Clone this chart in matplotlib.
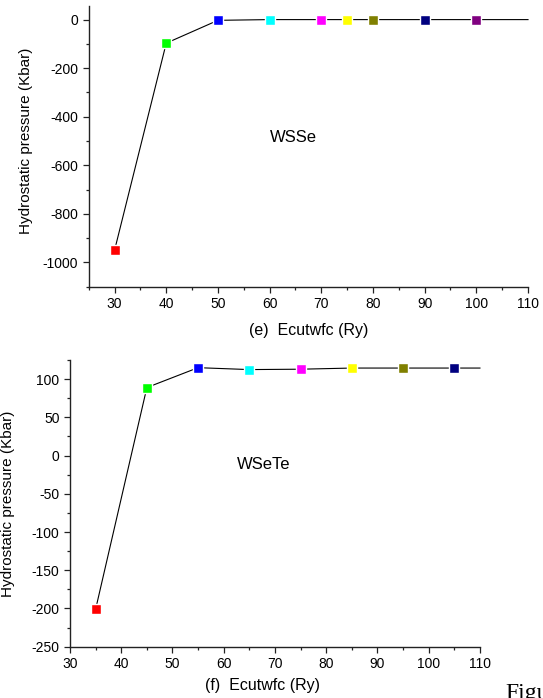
import numpy as np
import matplotlib
matplotlib.use('Agg')
import matplotlib.pyplot as plt
from matplotlib.ticker import MultipleLocator

plt.rcParams['font.family'] = ['Liberation Sans', 'DejaVu Sans']
plt.rcParams['axes.unicode_minus'] = False

# (e) WSSe
ecut_e = [30, 40, 50, 60, 70, 75, 80, 90, 100]
press_e = [-950, -97, -3, 0, 0, 0, 0, 0, 0]
colors_e = ['#ff0000', '#00ff00', '#0000ff', '#00ffff', '#ff00ff',
            '#ffff00', '#808000', '#000080', '#800080']
end_e = (110, 0)

# (f) WSeTe
ecut_f = [35, 45, 55, 65, 75, 85, 95, 105]
press_f = [-201, 89, 115, 112.5, 113, 114.5, 114.5, 114.5]
colors_f = ['#ff0000', '#00ff00', '#0000ff', '#00ffff', '#ff00ff',
            '#ffff00', '#808000', '#000080']
end_f = (110, 114.5)

fig = plt.figure(figsize=(5.43, 6.98), dpi=100)

def panel(ax, x, y, cols, end, xlim, ylim, ymaj, ymin, name, namepos, xlab):
    ax.plot(list(x) + [end[0]], list(y) + [end[1]], color='black', lw=0.8, zorder=1, clip_on=False)
    ax.scatter(x, y, c=cols, marker='s', s=52, edgecolors='white', linewidths=1.0, zorder=3, clip_on=False)
    ax.set_xlim(*xlim)
    ax.set_ylim(*ylim)
    ax.xaxis.set_major_locator(MultipleLocator(10))
    ax.xaxis.set_minor_locator(MultipleLocator(5))
    ax.yaxis.set_major_locator(MultipleLocator(ymaj))
    ax.yaxis.set_minor_locator(MultipleLocator(ymin))
    for s in ['top', 'right']:
        ax.spines[s].set_visible(False)
    for s in ['left', 'bottom']:
        ax.spines[s].set_linewidth(1.0)
        ax.spines[s].set_color('#222222')
    ax.tick_params(which='major', direction='out', length=4.5, width=0.9, labelsize=10, pad=3, color='#222222')
    ax.tick_params(which='minor', direction='out', length=2.5, width=0.9, color='#222222')
    ax.text(namepos[0], namepos[1], name, fontsize=12, ha='center', va='center')
    ax.set_ylabel('Hydrostatic pressure (Kbar)', fontsize=11)
    ax.set_xlabel(xlab, fontsize=11.5)

ax1 = fig.add_axes([0.1634, 0.5893, 0.809, 0.4021])
panel(ax1, ecut_e, press_e, colors_e, end_e, (25, 110), (-1100, 56), 200, 100,
      'WSSe', (64.6, -487), '(e)  Ecutwfc (Ry)')
ax1.xaxis.set_label_coords(0.5, -0.13)
ax1.yaxis.set_label_coords(-0.127, 0.52)

ax2 = fig.add_axes([0.1289, 0.0735, 0.755, 0.4107])
panel(ax2, ecut_f, press_f, colors_f, end_f, (30, 110), (-250, 125), 50, 25,
      'WSeTe', (67.8, -12), '(f)  Ecutwfc (Ry)')
ax2.xaxis.set_label_coords(0.47, -0.11)
ax2.yaxis.set_label_coords(-0.133, 0.5)

fig.text(0.93, 0.022, 'Figure', fontsize=17, family='Liberation Serif', ha='left', va='top')

fig.savefig('out.png', dpi=100)
